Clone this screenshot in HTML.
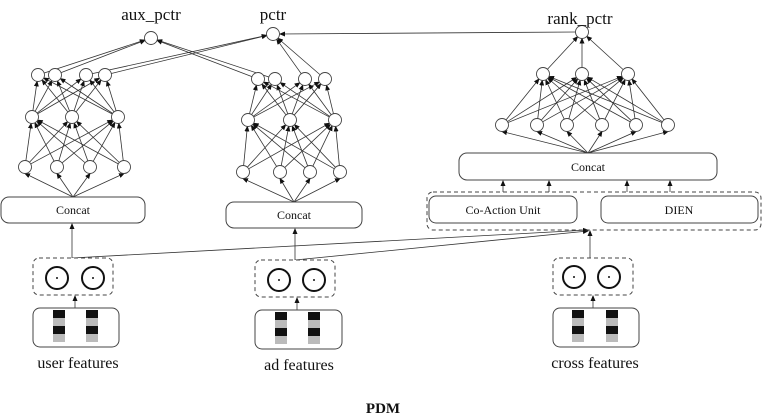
<!DOCTYPE html>
<html><head><meta charset="utf-8"><style>
body{margin:0;background:#fff;width:766px;height:420px;overflow:hidden}
svg{display:block}
text{font-family:"Liberation Serif",serif;fill:#111}
</style></head><body>
<svg id="s" width="766" height="420" viewBox="0 0 766 420" xmlns="http://www.w3.org/2000/svg">
<defs><marker id="a" markerWidth="6" markerHeight="6" refX="5" refY="3" orient="auto" markerUnits="userSpaceOnUse"><path d="M0,0.5 L6,3 L0,5.5z" fill="#111"/></marker></defs>
<g id="edges" stroke="#333" stroke-width="0.8" fill="none"></g>
<g id="nodes" stroke="#444" stroke-width="0.9" fill="#fff"></g>
<g fill="#fff" stroke="#444" stroke-width="1">
<rect x="1" y="197" width="144" height="26" rx="8"/>
<rect x="226" y="202" width="136" height="26" rx="8"/>
<rect x="459" y="153" width="258" height="27" rx="8"/>
<rect x="427" y="192" width="334" height="38" rx="6" stroke-dasharray="4,3" fill="none"/>
<rect x="429" y="196" width="148" height="27" rx="7"/>
<rect x="601" y="196" width="157" height="27" rx="7"/>
<rect x="33" y="258" width="80" height="37" rx="6" stroke-dasharray="4,3"/>
<rect x="255" y="260" width="80" height="37" rx="6" stroke-dasharray="4,3"/>
<rect x="553" y="258" width="80" height="37" rx="6" stroke-dasharray="4,3"/>
<rect x="33" y="308" width="86" height="39" rx="7"/>
<rect x="255" y="310" width="87" height="39" rx="7"/>
<rect x="553" y="308" width="86" height="39" rx="7"/>
</g>
<g stroke="#111" stroke-width="2" fill="none">
<circle cx="57" cy="278" r="11"/><circle cx="93" cy="278" r="11"/>
<circle cx="279" cy="280" r="11"/><circle cx="314" cy="280" r="11"/>
<circle cx="574" cy="277" r="11"/><circle cx="609" cy="277" r="11"/>
</g>
<g fill="#111">
<circle cx="57" cy="278" r="1"/><circle cx="93" cy="278" r="1"/>
<circle cx="279" cy="280" r="1"/><circle cx="314" cy="280" r="1"/>
<circle cx="574" cy="277" r="1"/><circle cx="609" cy="277" r="1"/>
</g>
<g id="bars"></g>
<g font-size="12" text-anchor="middle">
<text x="73" y="214">Concat</text>
<text x="294" y="219">Concat</text>
<text x="588" y="171">Concat</text>
<text x="503" y="214">Co-Action Unit</text>
<text x="679" y="214">DIEN</text>
</g>
<g font-size="17" text-anchor="middle">
<text x="151" y="20">aux_pctr</text>
<text x="273" y="20">pctr</text>
<text x="580" y="24">rank_pctr</text>
</g>
<g font-size="16" text-anchor="middle">
<text x="78" y="368">user features</text>
<text x="299" y="370">ad features</text>
<text x="595" y="368">cross features</text>
</g>
<text x="383" y="413" font-size="15" font-weight="bold" text-anchor="middle">PDM</text>
</svg>
<script>
var NS="http://www.w3.org/2000/svg",E=document.getElementById('edges'),N=document.getElementById('nodes'),B=document.getElementById('bars');
var R=6.5;
function ln(x1,y1,x2,y2,arr){var l=document.createElementNS(NS,'line');l.setAttribute('x1',x1);l.setAttribute('y1',y1);l.setAttribute('x2',x2);l.setAttribute('y2',y2);if(arr)l.setAttribute('marker-end','url(#a)');E.appendChild(l);}
function edge(a,b){var dx=b[0]-a[0],dy=b[1]-a[1],d=Math.hypot(dx,dy);ln(a[0]+dx/d*R,a[1]+dy/d*R,b[0]-dx/d*R,b[1]-dy/d*R,1);}
function node(p){var c=document.createElementNS(NS,'circle');c.setAttribute('cx',p[0]);c.setAttribute('cy',p[1]);c.setAttribute('r',R);N.appendChild(c);}
function row(xs,y){return xs.map(function(x){return [x,y]});}
function full(A,Bs){A.forEach(function(a){Bs.forEach(function(b){edge(a,b)})})}
var aux=[151,38],pc=[273,34],rk=[582,32];
var L1=row([38,55,86,105],75),L2=row([32,72,118],117),L3=row([25,57,90,124],167);
var M1=row([258,275,305,325],79),M2=row([248,290,335],120),M3=row([243,280,310,340],172);
var R1=row([543,582,628],74),R2=row([502,537,567,602,636,668],125);
full(L3,L2);full(L2,L1);full(M3,M2);full(M2,M1);full(R2,R1);full(R1,[rk]);
L3.forEach(function(p){ln(73,197,p[0],p[1]+R,1)});
M3.forEach(function(p){ln(294,202,p[0],p[1]+R,1)});
R2.forEach(function(p){ln(588,153,p[0],p[1]+R,1)});
edge(L1[0],aux);edge(L1[1],aux);edge(L1[2],pc);edge(L1[3],pc);
edge(M1[0],aux);edge(M1[1],aux);edge(M1[2],pc);edge(M1[3],pc);
ln(576,32,280,34,1);
[503,549,627,670].forEach(function(x){ln(x,192,x,181,1)});
ln(72,258,72,224,1);ln(72,258,588,230,1);
ln(295,260,295,229,1);ln(295,260,588,231,1);
ln(590,258,590,231,1);
ln(75,308,75,296,1);ln(297,310,297,298,1);ln(593,308,593,296,1);
[aux,pc,rk].concat(L1,L2,L3,M1,M2,M3,R1,R2).forEach(node);
function bar(x,y){[['#111',0],['#bbb',8],['#111',16],['#bbb',24]].forEach(function(s){var r=document.createElementNS(NS,'rect');r.setAttribute('x',x);r.setAttribute('y',y+s[1]);r.setAttribute('width',12);r.setAttribute('height',8);r.setAttribute('fill',s[0]);B.appendChild(r);});}
bar(53,310);bar(86,310);bar(275,312);bar(308,312);bar(572,310);bar(606,310);
</script>
</body></html>
